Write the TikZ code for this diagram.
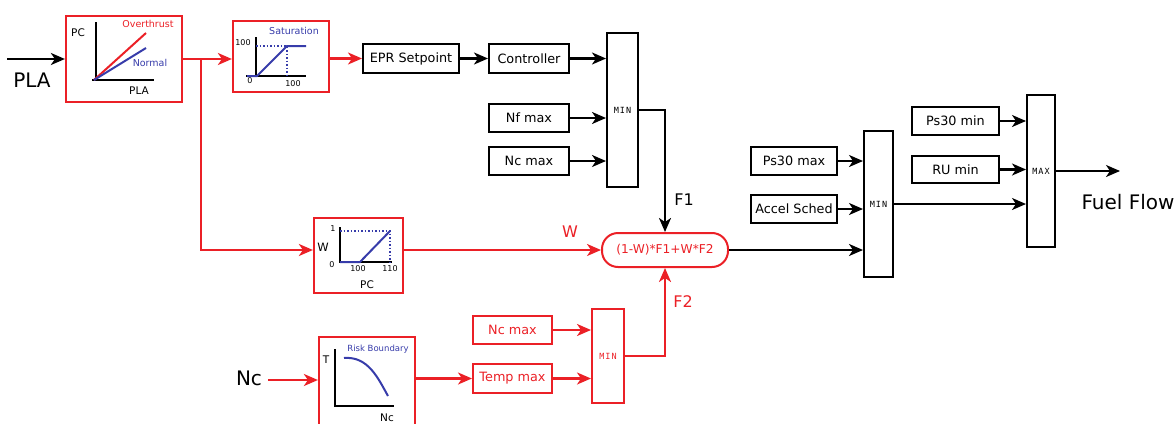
\documentclass[tikz,border=0pt]{standalone}
\usepackage{fontspec}
\setmainfont{DejaVu Sans}
\newfontfamily\minfont[LetterSpace=12]{DejaVu Sans Mono}
\usetikzlibrary{arrows.meta}
\definecolor{cred}{RGB}{235,32,38}
\definecolor{cblue}{RGB}{55,60,170}
\begin{document}
\begin{tikzpicture}[x=1pt,y=-1pt,
  blk/.style={draw=black, line width=2pt, inner sep=0pt, font=\fontsize{12.8}{14}\selectfont},
  rblk/.style={blk, draw=cred, text=cred},
  minb/.style={draw=black, line width=2pt, inner sep=0pt, font=\minfont\fontsize{8.5}{9}\selectfont},
  rminb/.style={minb, draw=cred, text=cred},
  plotbox/.style={draw=cred, line width=2.2pt, inner sep=0pt},
  ar/.style={line width=2.2pt, -{Stealth[length=14pt,width=12pt,inset=4pt]}},
  rar/.style={ar, draw=cred, color=cred},
  axis/.style={line width=2pt, black},
  bcurve/.style={line width=2pt, cblue},
  rcurve/.style={line width=2pt, cred},
  dotl/.style={line width=1.5pt, cblue, dotted},
  big/.style={font=\fontsize{20}{24}\selectfont},
  mid/.style={font=\fontsize{16}{19}\selectfont},
  sm/.style={font=\fontsize{10.5}{12}\selectfont, inner sep=0pt},
  tiny/.style={font=\fontsize{8}{9}\selectfont, inner sep=0pt},
  ttl/.style={font=\fontsize{9.5}{11}\selectfont, inner sep=0pt}
]
\useasboundingbox (0,0) rectangle (1175,423);

% ---- boxes ----
\node[plotbox, minimum width=116pt, minimum height=86pt] (plotPLA) at (124,59) {};
\node[plotbox, minimum width=96pt, minimum height=71pt] (sat) at (281,56.5) {};
\node[plotbox, minimum width=89pt, minimum height=75pt] (Wbox) at (358.5,255.5) {};
\node[plotbox, minimum width=96pt, minimum height=93pt] (risk) at (367,383.5) {};

\node[blk, minimum width=96pt, minimum height=29pt] (epr) at (411,58.5) {EPR Setpoint};
\node[blk, minimum width=80pt, minimum height=29pt] (ctrl) at (529,58.5) {Controller};
\node[blk, minimum width=80pt, minimum height=28pt] (nfmax) at (529,118) {Nf max};
\node[blk, minimum width=80pt, minimum height=28pt] (ncmax) at (529,161) {Nc max};
\node[minb, minimum width=31pt, minimum height=154pt] (min1) at (622.5,110) {MIN};

\node[draw=cred, text=cred, line width=2pt, rounded corners=16pt, minimum width=126pt, minimum height=34pt, inner sep=0pt, font=\fontsize{12.2}{14}\selectfont] (formula) at (665,250) {(1-W)*F1+W*F2};

\node[rblk, minimum width=79pt, minimum height=28pt] (ncmax2) at (512.5,330) {Nc max};
\node[rblk, minimum width=79pt, minimum height=29pt] (temp) at (512.5,378.5) {Temp max};
\node[rminb, minimum width=32pt, minimum height=94pt] (min2) at (608,356) {MIN};

\node[blk, minimum width=86pt, minimum height=28pt] (ps30max) at (794,161) {Ps30 max};
\node[blk, minimum width=86pt, minimum height=28pt] (accel) at (794,209) {Accel Sched};
\node[minb, minimum width=29pt, minimum height=146pt] (bmin) at (878.5,204) {MIN};

\node[blk, minimum width=87pt, minimum height=28pt] (ps30min) at (955.5,121) {Ps30 min};
\node[blk, minimum width=87pt, minimum height=27pt] (rumin) at (955.5,169.5) {RU min};
\node[minb, minimum width=28pt, minimum height=152pt] (bmax) at (1041,171) {MAX};

% ---- free labels ----
\node[big] (plalbl) at (32,80) {PLA};
\node[big] (nclbl) at (249,378) {Nc};
\node[big] (fuel) at (1128,202) {Fuel Flow};
\node[mid, text=cred] (wlbl) at (570,232) {W};
\node[mid] (f1lbl) at (684,200) {F1};
\node[mid, text=cred] (f2lbl) at (683,302) {F2};

% ---- PLA plot contents ----
\draw[axis] (96,22) -- (96,80);
\draw[axis] (92,80) -- (154,80);
\draw[rcurve] (94,80) -- (146,33);
\draw[bcurve] (94,80) -- (146,48);
\node[sm] (pcA) at (78,33) {PC};
\node[ttl, text=cred] (ovt) at (148,24) {Overthrust};
\node[ttl, text=cblue] (nrm) at (150,63) {Normal};
\node[sm] (plaA) at (139,91) {PLA};

% ---- Saturation plot contents ----
\draw[axis] (256,37) -- (256,76);
\draw[axis] (246,76) -- (306,76);
\draw[dotl] (256,46) -- (287,46) -- (287,76);
\draw[bcurve] (247,76) -- (257,76) -- (287,46) -- (306,46);
\node[tiny] (s100a) at (243,43) {100};
\node[tiny] (s0) at (250,81) {0};
\node[tiny] (s100b) at (293,84) {100};
\node[ttl, text=cblue] (satl) at (294,31) {Saturation};

% ---- W plot contents ----
\draw[axis] (340,227) -- (340,262);
\draw[axis] (339,262) -- (392,262);
\draw[dotl] (340,231) -- (390,231) -- (390,262);
\draw[bcurve] (340,262) -- (360,262) -- (390,231);
\node[tiny] (w1) at (333,229) {1};
\node[tiny] (w0) at (332,265) {0};
\node[font=\fontsize{11.5}{13}\selectfont, inner sep=0pt] (wax) at (323,247) {W};
\node[tiny] (w100) at (358,269) {100};
\node[tiny] (w110) at (390,269) {110};
\node[sm] (wpc) at (367,285) {PC};

% ---- Risk plot contents ----
\draw[axis] (335,349) -- (335,406) -- (394,406);
\draw[bcurve] (344,358) .. controls (368,356) and (378,378) .. (388,396);
\node[sm] (rT) at (326,360) {T};
\node[font=\fontsize{8.5}{10}\selectfont, inner sep=0pt, text=cblue] (rb) at (378,349) {Risk Boundary};
\node[sm] (rnc) at (387,418) {Nc};

% ---- connectors ----
\coordinate (plain) at (7,59);
\draw[ar] (plain) -- (plotPLA.west |- plain);
\coordinate (split) at (201,59);
\draw[rar] (plotPLA.east) -- (sat.west |- plotPLA.east);
\draw[rar] (split) |- ([yshift=5.5pt]Wbox.west);
\draw[rar] ([yshift=5.5pt]Wbox.east) -- (formula.west);
\draw[rar] (sat.east |- epr.west) -- (epr.west);
\draw[ar] (epr.east) -- (ctrl.west);
\draw[ar] (ctrl.east) -- (min1.west |- ctrl.east);
\draw[ar] (nfmax.east) -- (min1.west |- nfmax.east);
\draw[ar] (ncmax.east) -- (min1.west |- ncmax.east);
\draw[ar] (min1.east) -| (formula.north);

\coordinate (ncin) at (268,380);
\draw[rar] (ncin) -- (risk.west |- ncin);
\draw[rar] (risk.east |- temp.west) -- (temp.west);
\draw[rar] (ncmax2.east) -- (min2.west |- ncmax2.east);
\draw[rar] (temp.east) -- (min2.west |- temp.east);
\draw[rar] (min2.east) -| (formula.south);

\draw[ar] (formula.east) -- (bmin.west |- formula.east);
\draw[ar] (ps30max.east) -- (bmin.west |- ps30max.east);
\draw[ar] (accel.east) -- (bmin.west |- accel.east);
\draw[ar] (bmin.east) -- (bmax.west |- bmin.east);
\draw[ar] (ps30min.east) -- (bmax.west |- ps30min.east);
\draw[ar] (rumin.east) -- (bmax.west |- rumin.east);
\coordinate (out) at (1120,171);
\draw[ar] (bmax.east) -- (out);
\end{tikzpicture}
\end{document}
